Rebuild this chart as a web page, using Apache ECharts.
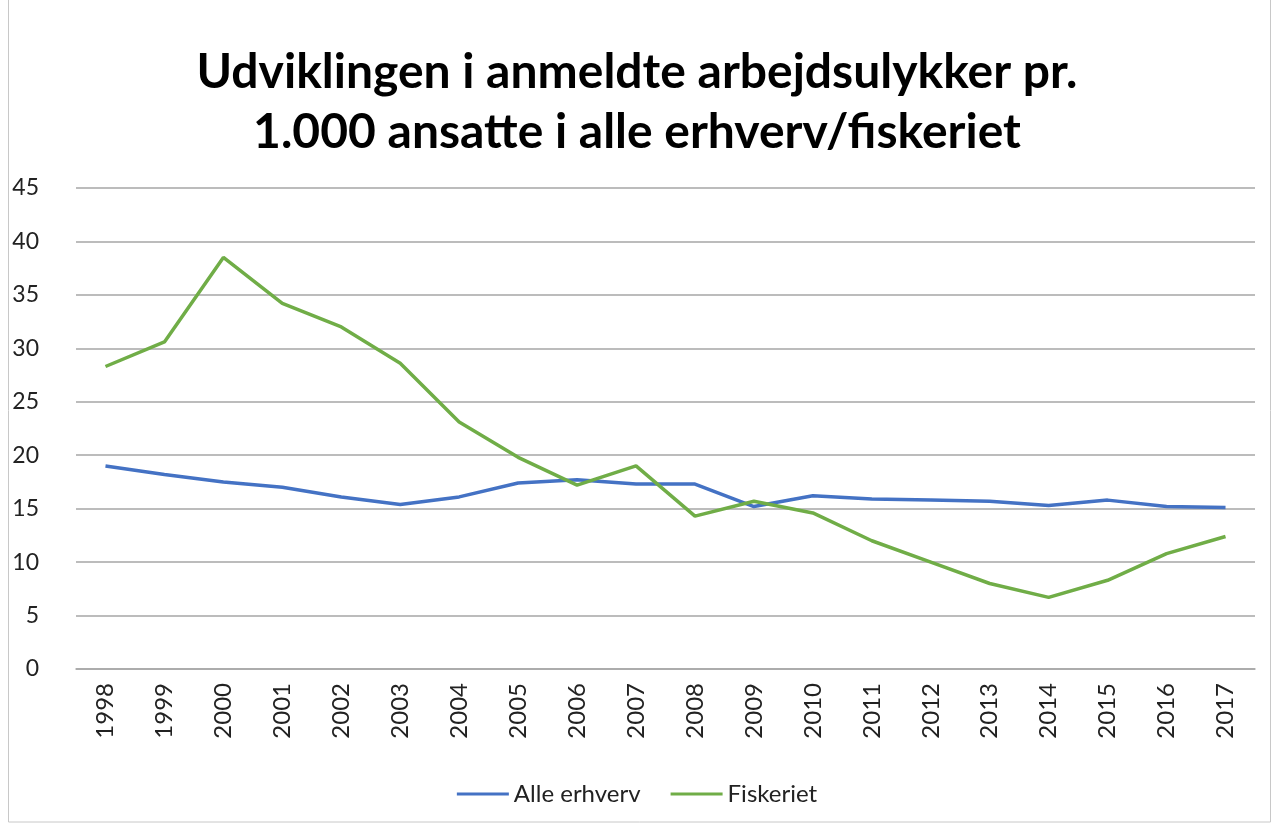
<!DOCTYPE html>
<html><head><meta charset="utf-8">
<script src="https://cdn.jsdelivr.net/npm/echarts@6/dist/echarts.min.js"></script>
<style>html,body{margin:0;padding:0;background:#fff}#c{width:1274px;height:825px}</style>
</head><body><div id="c"></div>
<script>
const years = ['1998','1999','2000','2001','2002','2003','2004','2005','2006','2007','2008','2009','2010','2011','2012','2013','2014','2015','2016','2017'];
const alleErhverv = [19.0,18.2,17.5,17.0,16.1,15.4,16.1,17.4,17.7,17.3,17.3,15.2,16.2,15.9,15.8,15.7,15.3,15.8,15.2,15.1];
const fiskeriet = [28.3,30.6,38.5,34.2,32.0,28.6,23.1,19.8,17.2,19.0,14.3,15.7,14.6,12.0,10.0,8.0,6.7,8.3,10.8,12.4];
const yTicks = {min:0,max:45,interval:5};
const font = 'Lato, "Open Sans", "Liberation Sans", sans-serif';
const chart = echarts.init(document.getElementById('c'));
chart.setOption({
  animation:false,
  graphic:[{type:'rect',shape:{x:8.5,y:-2,width:1262,height:824},style:{fill:'none',stroke:'#c8c8c8',lineWidth:1}}],
  title:{text:'Udviklingen i anmeldte arbejdsulykker pr.\n1.000 ansatte i alle erhverv/fiskeriet',left:'center',top:38,
    textStyle:{fontFamily:font,fontSize:48,fontWeight:'bold',color:'#000',lineHeight:60}},
  legend:{top:777,left:'center',itemWidth:52,itemHeight:3,itemGap:30,icon:'rect',
    textStyle:{fontFamily:font,fontSize:24,color:'#222'},data:['Alle erhverv','Fiskeriet']},
  grid:{left:76,right:19,top:188,bottom:156,containLabel:false},
  xAxis:{type:'category',data:years,boundaryGap:true,
    axisLine:{lineStyle:{color:'#a6a6a6',width:1.5}},axisTick:{show:false},
    axisLabel:{rotate:90,fontFamily:font,fontSize:24,color:'#222',margin:14}},
  yAxis:{type:'value',min:yTicks.min,max:yTicks.max,interval:yTicks.interval,
    axisLine:{show:false},axisTick:{show:false},
    splitLine:{lineStyle:{color:'#a6a6a6',width:1.5}},
    axisLabel:{fontFamily:font,fontSize:23,color:'#222',margin:37}},
  series:[
    {name:'Alle erhverv',type:'line',data:alleErhverv,symbol:'none',lineStyle:{color:'#4472c4',width:3.5},itemStyle:{color:'#4472c4'}},
    {name:'Fiskeriet',type:'line',data:fiskeriet,symbol:'none',lineStyle:{color:'#70ad47',width:3.5},itemStyle:{color:'#70ad47'}}
  ]
});
</script></body></html>
